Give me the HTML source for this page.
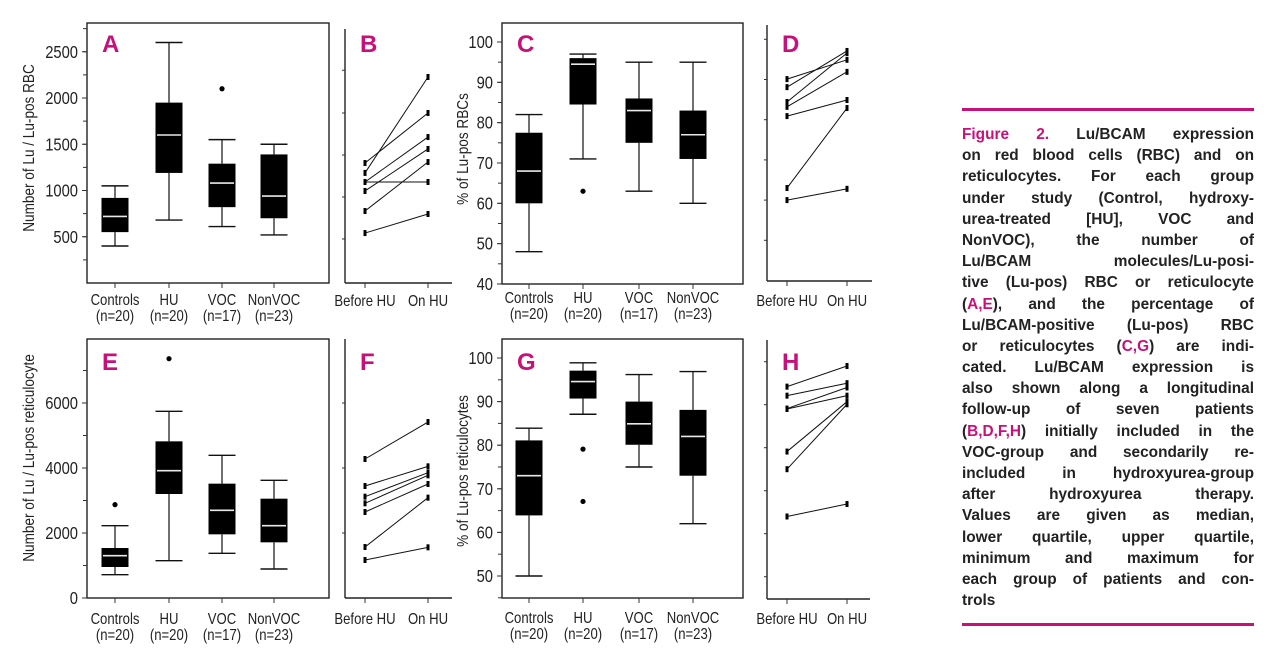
<!DOCTYPE html>
<html><head><meta charset="utf-8">
<style>
html,body{margin:0;padding:0;background:#fff;}
body{width:1280px;height:657px;position:relative;overflow:hidden;}
svg{position:absolute;left:0;top:0;}
.cap{position:absolute;left:962px;top:124px;width:292px;font-family:"Liberation Sans",sans-serif;font-weight:bold;font-size:15.4px;color:#222;}
.cap div{height:21.2px;line-height:21.2px;text-align:justify;text-align-last:justify;white-space:nowrap;}
.cap div.last{text-align-last:left;}
.pk{color:#c8107a;}
.rule{position:absolute;left:962px;width:292px;height:3px;background:#c8107a;}
</style></head>
<body>
<div class="rule" style="top:108px"></div>
<div class="rule" style="top:623px"></div>
<div class="cap">
<div><span class="pk">Figure 2.</span> Lu/BCAM expression</div>
<div>on red blood cells (RBC) and on</div>
<div>reticulocytes. For each group</div>
<div>under study (Control, hydroxy-</div>
<div>urea-treated [HU], VOC and</div>
<div>NonVOC), the number of</div>
<div>Lu/BCAM molecules/Lu-posi-</div>
<div>tive (Lu-pos) RBC or reticulocyte</div>
<div>(<span class="pk">A,E</span>), and the percentage of</div>
<div>Lu/BCAM-positive (Lu-pos) RBC</div>
<div>or reticulocytes (<span class="pk">C,G</span>) are indi-</div>
<div>cated. Lu/BCAM expression is</div>
<div>also shown along a longitudinal</div>
<div>follow-up of seven patients</div>
<div>(<span class="pk">B,D,F,H</span>) initially included in the</div>
<div>VOC-group and secondarily re-</div>
<div>included in hydroxyurea-group</div>
<div>after hydroxyurea therapy.</div>
<div>Values are given as median,</div>
<div>lower quartile, upper quartile,</div>
<div>minimum and maximum for</div>
<div>each group of patients and con-</div>
<div class="last">trols</div>
</div>
<svg id="fig" width="1280" height="657"></svg>
<script>
// ---- data ----
const categories = ["Controls","HU","VOC","NonVOC"];
const groupN = ["(n=20)","(n=20)","(n=17)","(n=23)"];
const pairLabels = ["Before HU","On HU"];
// box stats: [min, q1, median, q3, max]
const statsA = [[400,550,720,920,1050],[680,1190,1600,1950,2600],[610,820,1080,1290,1550],[520,700,940,1390,1500]];
const outliersA = [[],[],[2100],[]];
const ticksA = [500,1000,1500,2000,2500];
const statsC = [[48,60,68,77.5,82],[71,84.5,94.5,96,97],[63,75,83,86,95],[60,71,77,83,95]];
const outliersC = [[],[63],[],[]];
const ticksC = [40,50,60,70,80,90,100];
const statsE = [[718,954,1302,1538,2226],[1149,3200,3918,4820,5744],[1374,1959,2697,3518,4390],[892,1713,2226,3056,3620]];
const outliersE = [[2872],[7364],[],[]];
const ticksE = [0,2000,4000,6000];
const statsG = [[50,63.9,73,81.1,83.9],[87.1,90.7,94.6,97.1,98.9],[75,80.1,84.9,90,96.2],[62,73,82,88.1,96.9]];
const outliersG = [[],[79.1,67.1],[],[]];
const ticksG = [50,60,70,80,90,100];
// paired before / on HU
const beforeB = [1297,1190,1092,1092,995,778,540];
const onB = [1838,2227,1092,1578,1449,1308,746];
const ticksB = [476,930,1384,1838,2300];
const beforeD = [90.1,88.1,84.4,83.2,80.9,63.0,60.0];
const onD = [94.9,97.1,96.6,91.9,84.9,82.9,62.8];
const ticksD = [50,60,70,80,90,100];
const beforeF = [4277,3446,3118,2913,2646,1569,1169];
const onF = [5415,4051,3856,3774,3508,3087,1559];
const ticksF = [2000,4000,6000];
const beforeH = [94.2,92.1,89.1,89.0,79.1,75.0,64.0];
const onH = [99.0,95.0,94.0,92.1,90.7,90.1,66.9];
const ticksH = [50,60,70,80,90,100];

const NS="http://www.w3.org/2000/svg";
const svg=document.getElementById('fig');
const FONT='"Liberation Sans Narrow","Liberation Sans",sans-serif';
function mk(tag,attrs,parent,text){const e=document.createElementNS(NS,tag);for(const k in attrs)e.setAttribute(k,attrs[k]);if(text!==undefined)e.textContent=text;(parent||svg).appendChild(e);return e;}
function line(x1,y1,x2,y2,w,c,p){return mk('line',{x1,y1,x2,y2,stroke:c||'#111','stroke-width':w||1},p);}
function ntext(x,y,anchor,size,str,p){return mk('text',{x:0,y:0,transform:`translate(${x},${y}) scale(0.82,1)`,'text-anchor':anchor,'font-family':FONT,'font-size':size,fill:'#222'},p,str);}

function boxPanel(o){
  const g=mk('g',{});
  
  
  const y=v=>o.y0+(o.vmax-v)*o.k;
  const fr=mk('rect',{x:o.L,y:o.T,width:o.R-o.L,height:o.B-o.T,fill:'none',stroke:'#222','stroke-width':1.4},g);
  
  
  for(let v=o.minorStart;v<=o.minorEnd+1e-9;v+=o.minor){const yy=y(v);if(yy<o.T-1||yy>o.B+1)continue;line(o.L-4,yy,o.L,yy,1,'#333',g);}
  o.ticks.forEach(t=>{const yy=y(t);line(o.L-5,yy,o.L,yy,1,'#333',g);
    const tl=ntext(o.L-9,yy+6,'end',18,String(t),g);
    
    });
  const yt=mk('text',{x:0,y:0,transform:`translate(${o.titleX},${o.titleY}) rotate(-90) scale(0.85,1)`,'text-anchor':'middle','font-family':FONT,'font-size':16,fill:'#222'},g,o.title);
  
  
  const lt=mk('text',{x:o.L+15,y:o.letterY,'font-family':'"Liberation Sans",sans-serif','font-weight':'bold','font-size':24,fill:'#c8107a'},g,o.letter);
  
  
  const bw=27;
  categories.forEach((c,i)=>{
    const cx=o.xs[i];const s=o.stats[i];
    line(cx,o.B,cx,o.B+5,1,'#333',g);
    const t1=ntext(cx,o.labY,'middle',16,c,g);
    
    
    const t2=ntext(cx,o.labY+16,'middle',16,groupN[i],g);
    
    
    line(cx,y(s[4]),cx,y(s[3]),1.2,'#111',g);
    line(cx,y(s[1]),cx,y(s[0]),1.2,'#111',g);
    line(cx-bw/2,y(s[4]),cx+bw/2,y(s[4]),1.4,'#111',g);
    line(cx-bw/2,y(s[0]),cx+bw/2,y(s[0]),1.4,'#111',g);
    const b=mk('rect',{x:cx-bw/2,y:y(s[3]),width:bw,height:y(s[1])-y(s[3]),fill:'#000'},g);
    
    
    const m=line(cx-bw/2+1.5,y(s[2]),cx+bw/2-1.5,y(s[2]),1.6,'#e8e8e8',g);
    
    
    o.out[i].forEach(v=>{const d=mk('circle',{cx:cx,cy:y(v),r:2.6,fill:'#000'},g);
      
      });
  });
}
function pairPanel(o){
  const g=mk('g',{});
  
  
  const y=v=>o.y0+(o.vmax-v)*o.k;
  line(o.L,o.T,o.L,o.B,1.4,'#222',g);
  line(o.L,o.B,o.R,o.B,1.4,'#222',g);
  o.ticks.forEach(t=>line(o.L-3,y(t),o.L,y(t),1,'#333',g));
  const lt=mk('text',{x:o.L+15,y:o.letterY,'font-family':'"Liberation Sans",sans-serif','font-weight':'bold','font-size':24,fill:'#c8107a'},g,o.letter);
  
  
  [o.xb,o.xo].forEach((x,i)=>{line(x,o.B,x,o.B+5,1,'#333',g);
    const t=ntext(x,o.labY,'middle',16,pairLabels[i],g);
    
    });
  o.before.forEach((v,i)=>{
    const l=line(o.xb,y(v),o.xo,y(o.on[i]),1,'#111',g);
    
    
    mk('rect',{x:o.xb-1.5,y:y(v)-3,width:3,height:6,fill:'#000'},g);
    mk('rect',{x:o.xo-1.5,y:y(o.on[i])-3,width:3,height:6,fill:'#000'},g);
  });
}
const xsL=[115,169,222,274], xsR=[529,583,639,693];
boxPanel({name:'panel-a',L:87,R:329,T:23,B:283,y0:283,vmax:0,k:0.0925,stats:statsA,out:outliersA,ticks:ticksA,minor:250,minorStart:250,minorEnd:2750,xs:xsL,labY:305,title:'Number of Lu / Lu-pos RBC',titleX:34,titleY:148,letter:'A',letterY:52});
pairPanel({name:'panel-b',L:345,R:452,T:29,B:283,y0:283,vmax:0,k:0.0925,ticks:ticksB,xb:365,xo:428,before:beforeB,on:onB,labY:306,letter:'B',letterY:52});
boxPanel({name:'panel-c',L:502,R:743,T:23,B:284,y0:42,vmax:100,k:4.033,stats:statsC,out:outliersC,ticks:ticksC,minor:5,minorStart:40,minorEnd:105,xs:xsR,labY:303,title:'% of  Lu-pos RBCs',titleX:468,titleY:149,letter:'C',letterY:52});
pairPanel({name:'panel-d',L:767,R:872,T:25,B:281,y0:39.3,vmax:100,k:4.02,ticks:ticksD,xb:787,xo:847,before:beforeD,on:onD,labY:306,letter:'D',letterY:52});
boxPanel({name:'panel-e',L:87,R:329,T:339,B:598,y0:598,vmax:0,k:0.0325,stats:statsE,out:outliersE,ticks:ticksE,minor:1000,minorStart:0,minorEnd:7000,xs:xsL,labY:624,title:'Number of Lu / Lu-pos reticulocyte',titleX:34,titleY:458,letter:'E',letterY:370});
pairPanel({name:'panel-f',L:345,R:452,T:339,B:598,y0:598,vmax:0,k:0.0325,ticks:ticksF,xb:365,xo:428,before:beforeF,on:onF,labY:624,letter:'F',letterY:370});
boxPanel({name:'panel-g',L:502,R:743,T:339,B:598,y0:358,vmax:100,k:4.36,stats:statsG,out:outliersG,ticks:ticksG,minor:5,minorStart:45,minorEnd:100,xs:xsR,labY:623,title:'% of  Lu-pos reticulocytes',titleX:468,titleY:471,letter:'G',letterY:370});
pairPanel({name:'panel-h',L:767,R:870,T:340,B:599,y0:361.7,vmax:100,k:4.3,ticks:ticksH,xb:787,xo:847,before:beforeH,on:onH,labY:624,letter:'H',letterY:370});
</script>
</body></html>
